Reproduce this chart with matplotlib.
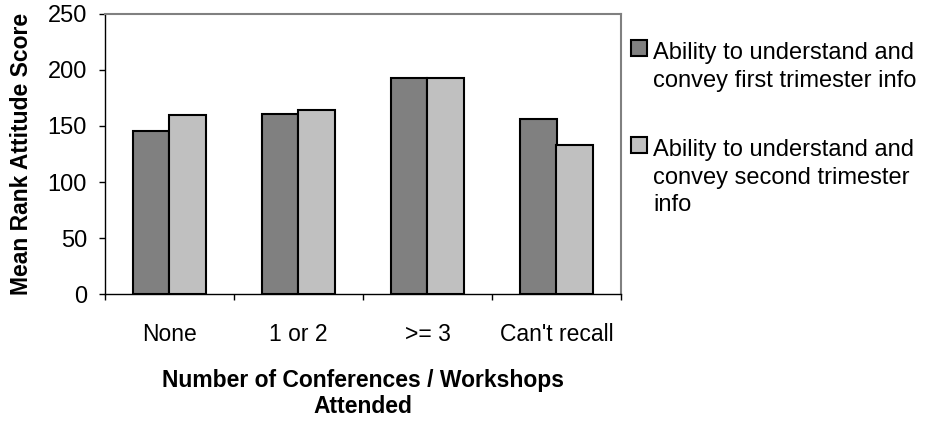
import matplotlib
matplotlib.use("Agg")
import matplotlib.pyplot as plt
import numpy as np
from matplotlib.patches import Rectangle

plt.rcParams['font.family'] = ['Liberation Sans', 'DejaVu Sans']

categories = ["None", "1 or 2", ">= 3", "Can't recall"]
first_trimester = [145.5, 160.5, 193, 156.5]
second_trimester = [160, 164, 193, 133]
series_labels = ["Ability to understand and\nconvey first trimester info",
                 "Ability to understand and\nconvey second trimester\ninfo"]
series_colors = ["#808080", "#C0C0C0"]
yticks = [0, 50, 100, 150, 200, 250]

W, H = 929, 423
AX_L, AX_R, AX_T, AX_B = 105, 621, 13.7, 294.3
fig = plt.figure(figsize=(W / 100, H / 100), dpi=100)
ax = fig.add_axes([AX_L / W, 1 - AX_B / H, (AX_R - AX_L) / W, (AX_B - AX_T) / H])

x = np.arange(len(categories))
bw = 1 / 3.5
for i, (vals, col) in enumerate(zip([first_trimester, second_trimester], series_colors)):
    ax.bar(x + (i - 0.5) * bw, vals, width=bw, color=col, edgecolor="black",
           linewidth=1.5, zorder=3)

ax.set_xlim(-0.5, len(categories) - 0.5)
ax.set_ylim(0, 250)
ax.set_yticks(yticks)
ax.set_yticklabels([str(v) for v in yticks], fontsize=17)
ax.set_xticks(np.arange(len(categories) + 1) - 0.5)
ax.set_xticklabels([])
ax.set_xticks(x, minor=True)
ax.set_xticklabels(categories, minor=True, fontsize=16.5)
ax.tick_params(axis="x", which="minor", length=0, pad=21)
ax.tick_params(axis="x", which="major", direction="out", length=4.5, width=1)
ax.tick_params(axis="y", direction="out", length=4.5, width=1, pad=8.5)

for side in ["left", "bottom"]:
    ax.spines[side].set_color("black")
    ax.spines[side].set_linewidth(1)
for side in ["top", "right"]:
    ax.spines[side].set_color("#808080")
    ax.spines[side].set_linewidth(1.5)

ax.set_ylabel("Mean Rank Attitude Score", fontsize=16.5, fontweight="bold")
ax.yaxis.label.set_va("center")
ax.yaxis.set_label_coords((22 - AX_L) / (AX_R - AX_L), 0.5)

ax.set_xlabel("Number of Conferences / Workshops\nAttended", fontsize=16.5,
              fontweight="bold", linespacing=1.15)
ax.xaxis.label.set_va("top")
ax.xaxis.set_label_coords(0.5, -(369 - AX_B) / (AX_B - AX_T))

# legend drawn as figure artists so the swatch sits beside the first text line
legend_rows = [(40, 59.3), (136.7, 156)]
for (sq_top, base), col, lab in zip(legend_rows, series_colors, series_labels):
    fig.add_artist(Rectangle((631 / W, 1 - (sq_top + 16) / H), 16 / W, 16 / H,
                             transform=fig.transFigure, facecolor=col,
                             edgecolor="black", linewidth=1.5))
    for k, line in enumerate(lab.split("\n")):
        fig.text(653 / W, 1 - (base + 27.6 * k) / H, line, fontsize=17,
                 va="baseline", ha="left")

fig.savefig("out.png", dpi=100)
